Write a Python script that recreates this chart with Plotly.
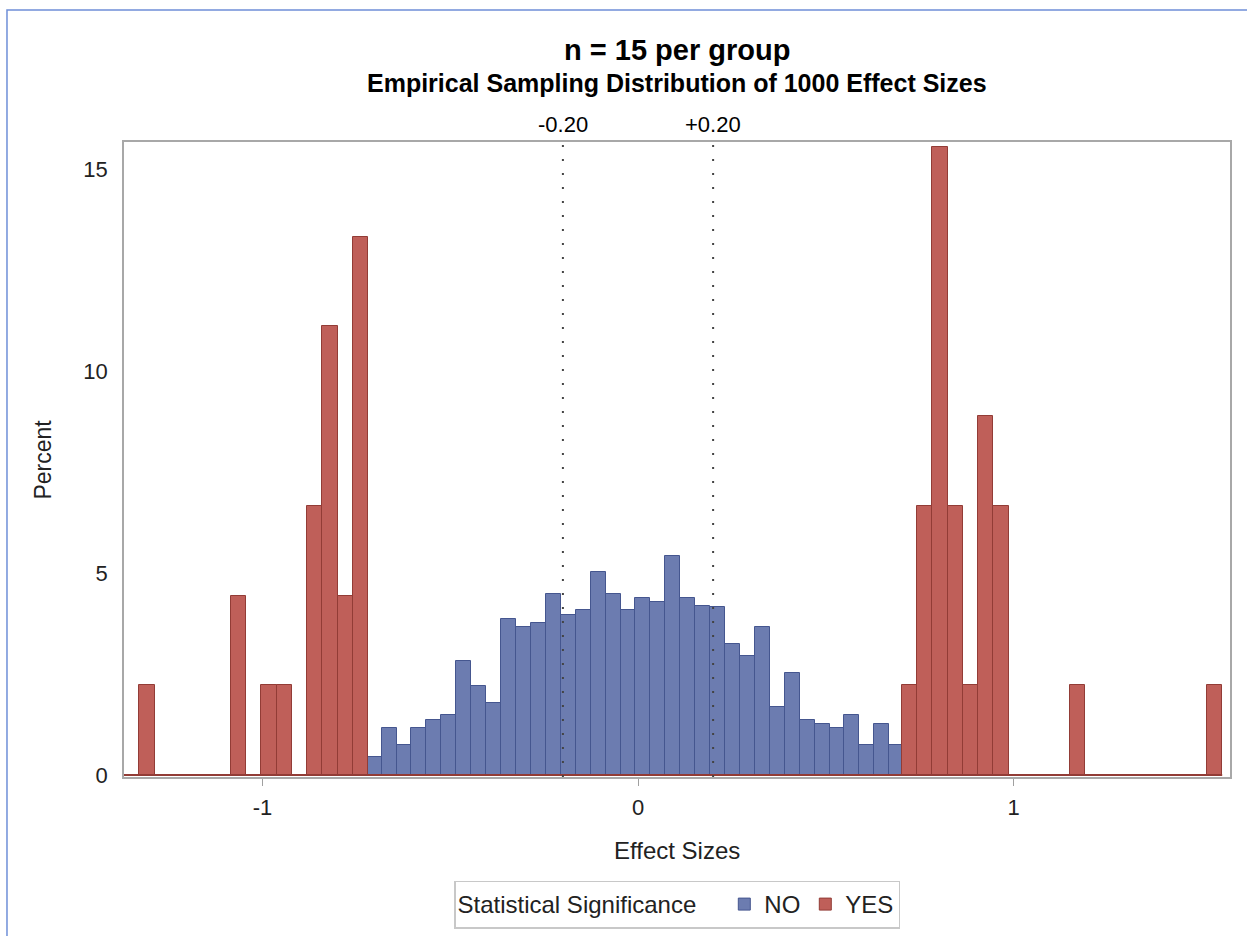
import plotly.graph_objects as go

# ---- data ----
# NO (not significant) group: percent of NO-group samples per bin
no_bin_start = -0.7225
no_bin_width = 0.03976
no_percent = [0.44, 1.16, 0.74, 1.16, 1.37, 1.48, 2.83, 2.21, 1.79, 3.86,
              3.67, 3.77, 4.49, 3.97, 4.08, 5.02, 4.49, 4.08, 4.39, 4.29,
              5.43, 4.39, 4.19, 4.17, 3.24, 2.95, 3.66, 1.69, 2.52, 1.37,
              1.27, 1.16, 1.48, 0.74, 1.27, 0.74]

# YES (significant) group: percent of YES-group samples per bin
yes_bin_start = -1.3276
yes_bin_width = 0.04061
yes_percent = [2.22, 0, 0, 0, 0, 0, 4.44, 0, 2.22, 2.22,
               0, 6.67, 11.11, 4.44, 13.33, 0, 0, 0, 0, 0,
               0, 0, 0, 0, 0, 0, 0, 0, 0, 0,
               0, 0, 0, 0, 0, 0, 0, 0, 0, 0,
               0, 0, 0, 0, 0, 0, 0, 0, 0, 0,
               2.22, 6.67, 15.56, 6.67, 2.22, 8.89, 6.67, 0, 0, 0,
               0, 2.22, 0, 0, 0, 0, 0, 0, 0, 0,
               2.22]

ref_values = [-0.20, 0.20]
ref_labels = ["-0.20", "+0.20"]
x_tick_vals = [-1, 0, 1]
x_tick_text = ["-1", "0", "1"]
y_tick_vals = [0, 5, 10, 15]
y_tick_text = ["0", "5", "10", "15"]
group_names = ["NO", "YES"]

title_text = "n = 15 per group"
subtitle_text = "Empirical Sampling Distribution of 1000 Effect Sizes"
x_title = "Effect Sizes"
y_title = "Percent"
legend_title = "Statistical Significance"

# ---- styling ----
FONT = "Liberation Sans, Arial, sans-serif"
BLUE_FILL, BLUE_LINE = "#6C7CB0", "#45568F"
RED_FILL, RED_LINE = "#BF5F59", "#923C36"
X_RANGE = [-1.3688, 1.5765]
Y_RANGE = [-0.05, 15.68]

no_x = [no_bin_start + (i + 0.5) * no_bin_width for i in range(len(no_percent))]
yes_x = [yes_bin_start + (i + 0.5) * yes_bin_width for i in range(len(yes_percent))]
yes_end = yes_bin_start + len(yes_percent) * yes_bin_width

fig = go.Figure()
fig.add_trace(go.Bar(
    x=no_x, y=no_percent, width=no_bin_width, name=group_names[0],
    marker=dict(color=BLUE_FILL, line=dict(color=BLUE_LINE, width=1)),
))
fig.add_trace(go.Bar(
    x=yes_x, y=yes_percent, width=yes_bin_width, name=group_names[1],
    marker=dict(color=RED_FILL, line=dict(color=RED_LINE, width=1)),
))
# baseline of the YES histogram (zero-height bins)
fig.add_trace(go.Scatter(
    x=[X_RANGE[0], yes_end], y=[0, 0], mode="lines",
    line=dict(color=RED_LINE, width=2), showlegend=False, hoverinfo="skip",
))

shapes = []
for v in ref_values:
    shapes.append(dict(type="line", xref="x", yref="paper", x0=v, x1=v, y0=0, y1=1,
                       line=dict(color="#444444", width=2, dash="2px,12px"), layer="above"))
# outer graph border (right and bottom edges fall outside the page)
shapes.append(dict(type="rect", xref="paper", yref="paper",
                   x0=-0.1058, x1=1.08, y0=-0.35, y1=1.208,
                   line=dict(color="#6F8FD8", width=1.5), fillcolor="rgba(0,0,0,0)", layer="below"))

annotations = [
    dict(text="<b>" + title_text + "</b>", xref="paper", yref="paper", x=0.5, y=1.145,
         xanchor="center", yanchor="middle", showarrow=False,
         font=dict(family=FONT, size=29, color="#000000")),
    dict(text="<b>" + subtitle_text + "</b>", xref="paper", yref="paper", x=0.5, y=1.093,
         xanchor="center", yanchor="middle", showarrow=False,
         font=dict(family=FONT, size=25, color="#000000")),
    dict(text=x_title, xref="paper", yref="paper", x=0.5, y=-0.115,
         xanchor="center", yanchor="middle", showarrow=False,
         font=dict(family=FONT, size=24, color="#222222")),
    dict(text=y_title, xref="paper", yref="paper", x=-0.0741, y=0.5, textangle=-90,
         xanchor="center", yanchor="middle", showarrow=False,
         font=dict(family=FONT, size=23, color="#222222")),
]
for v, lab in zip(ref_values, ref_labels):
    annotations.append(dict(text=lab, xref="x", yref="paper", x=v, y=1.027,
                            xanchor="center", yanchor="middle", showarrow=False,
                            font=dict(family=FONT, size=22, color="#000000")))

fig.update_layout(
    width=1247, height=936,
    margin=dict(l=124, r=17, t=142, b=159, autoexpand=False),
    paper_bgcolor="white", plot_bgcolor="white",
    barmode="overlay", bargap=0,
    font=dict(family=FONT, size=22, color="#222222"),
    shapes=shapes, annotations=annotations,
    legend=dict(orientation="h", x=0.5, xanchor="center", y=-0.163, yanchor="top",
                bordercolor="#C8C8C8", borderwidth=1.5,
                title=dict(text=legend_title + "   ", font=dict(family=FONT, size=24)),
                font=dict(family=FONT, size=24, color="#222222"),
                traceorder="normal", tracegroupgap=0, itemwidth=30),
    showlegend=True,
)
fig.update_xaxes(range=X_RANGE, tickvals=x_tick_vals, ticktext=x_tick_text,
                 ticks="outside", ticklen=7, tickcolor="#A0A0A0", ticklabelstandoff=3,
                 showline=True, linecolor="#A8A8A8", linewidth=1.5, mirror=True,
                 showgrid=False, zeroline=False, automargin=False,
                 tickfont=dict(family=FONT, size=22))
fig.update_yaxes(range=Y_RANGE, tickvals=y_tick_vals, ticktext=y_tick_text,
                 ticks="", ticklabelstandoff=10,
                 showline=True, linecolor="#A8A8A8", linewidth=1.5, mirror=True,
                 showgrid=False, zeroline=False, automargin=False,
                 tickfont=dict(family=FONT, size=22))

fig.write_html("out.html")
